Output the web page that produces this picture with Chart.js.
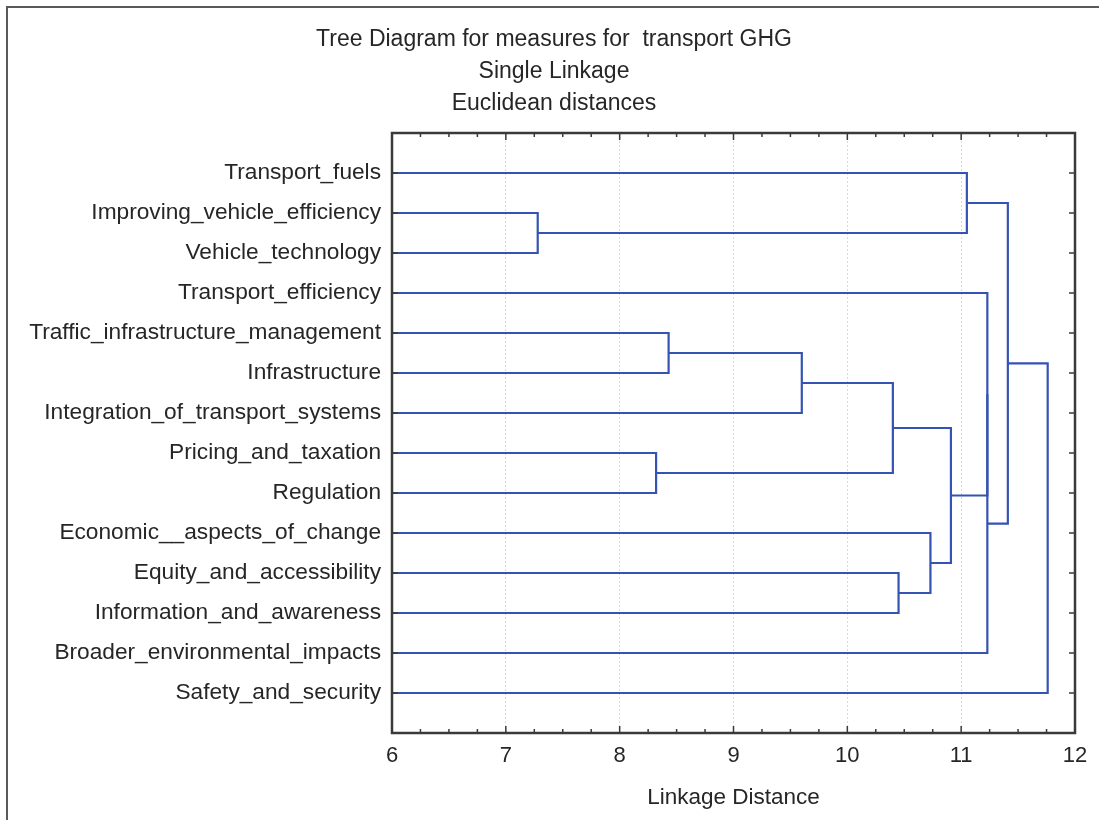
<!DOCTYPE html>
<html>
<head>
<meta charset="utf-8">
<title>Tree Diagram for measures for transport GHG</title>
<script src="https://cdn.jsdelivr.net/npm/chart.js@4.4.1/dist/chart.umd.min.js"></script>
<style>
  html, body { margin: 0; padding: 0; background: #fff; }
  #wrap { width: 1099px; height: 820px; }
</style>
</head>
<body>
<div id="wrap"><canvas id="c" width="1099" height="820"></canvas></div>
<script>
// leaves, top to bottom
const leaves = [
  'Transport_fuels',
  'Improving_vehicle_efficiency',
  'Vehicle_technology',
  'Transport_efficiency',
  'Traffic_infrastructure_management',
  'Infrastructure',
  'Integration_of_transport_systems',
  'Pricing_and_taxation',
  'Regulation',
  'Economic__aspects_of_change',
  'Equity_and_accessibility',
  'Information_and_awareness',
  'Broader_environmental_impacts',
  'Safety_and_security'
];

// merges: node ids 0..13 are leaves, merge k becomes node 14+k
const mergePairs = [
  [1, 2],    // 14
  [4, 5],    // 15
  [7, 8],    // 16
  [15, 6],   // 17
  [17, 16],  // 18
  [10, 11],  // 19
  [9, 19],   // 20
  [18, 20],  // 21
  [0, 14],   // 22
  [3, 21],   // 23
  [23, 12],  // 24
  [22, 24],  // 25
  [25, 13]   // 26
];
const mergeHeights = [7.28, 8.43, 8.32, 9.60, 10.40, 10.45, 10.73, 10.91, 11.05, 11.23, 11.23, 11.41, 11.76];

const xTicks = [6, 7, 8, 9, 10, 11, 12];

const LINE = '#3553b3';
const TEXT = '#262626';
const FONT = 'Liberation Sans, Arial, sans-serif';

// position (height, row) of every node
const nodeH = leaves.map(() => xTicks[0]);
const nodeY = leaves.map((_, i) => i);
mergePairs.forEach(function (p, k) {
  nodeH.push(mergeHeights[k]);
  nodeY.push((nodeY[p[0]] + nodeY[p[1]]) / 2);
});

// one bracket per merge
const datasets = mergePairs.map(function (p, k) {
  const a = p[0], b = p[1], h = mergeHeights[k];
  return {
    data: [
      { x: nodeH[a], y: nodeY[a] },
      { x: h, y: nodeY[a] },
      { x: h, y: nodeY[b] },
      { x: nodeH[b], y: nodeY[b] }
    ],
    showLine: true,
    borderColor: LINE,
    borderWidth: 2.2,
    pointRadius: 0,
    tension: 0
  };
});

// plot box, inward ticks and outer frame
const framePlugin = {
  id: 'frame',
  afterDraw(chart) {
    const ctx = chart.ctx, a = chart.chartArea;
    const x = chart.scales.x, y = chart.scales.y;
    ctx.save();
    ctx.strokeStyle = '#5a5a5a';
    ctx.lineWidth = 2;
    ctx.beginPath();
    ctx.moveTo(7, chart.height);
    ctx.lineTo(7, 7);
    ctx.lineTo(chart.width, 7);
    ctx.stroke();

    ctx.strokeStyle = '#3a3a3a';
    ctx.lineWidth = 2.5;
    ctx.strokeRect(a.left, a.top, a.right - a.left, a.bottom - a.top);

    ctx.lineWidth = 1.5;
    ctx.beginPath();
    leaves.forEach(function (_, i) {
      const py = y.getPixelForValue(i);
      ctx.moveTo(a.left, py); ctx.lineTo(a.left + 6, py);
      ctx.moveTo(a.right, py); ctx.lineTo(a.right - 6, py);
    });
    for (let v = x.min; v <= x.max + 1e-9; v += 0.25) {
      const px = x.getPixelForValue(v);
      const len = Math.abs(v - Math.round(v)) < 1e-6 ? 7 : 4;
      ctx.moveTo(px, a.bottom); ctx.lineTo(px, a.bottom - len);
      ctx.moveTo(px, a.top); ctx.lineTo(px, a.top + len);
    }
    ctx.stroke();
    ctx.restore();
  }
};

new Chart(document.getElementById('c'), {
  type: 'scatter',
  data: { datasets: datasets },
  plugins: [framePlugin],
  options: {
    responsive: false,
    animation: false,
    layout: { padding: { left: 9, right: 0, top: 0, bottom: 0 } },
    plugins: {
      legend: { display: false },
      tooltip: { enabled: false },
      title: {
        display: true,
        text: ['Tree Diagram for measures for  transport GHG', 'Single Linkage', 'Euclidean distances'],
        color: TEXT,
        font: { family: FONT, size: 23, weight: 'normal', lineHeight: 32 / 23 },
        padding: { top: 24, bottom: 13 }
      }
    },
    scales: {
      x: {
        type: 'linear',
        position: 'bottom',
        min: xTicks[0],
        max: xTicks[xTicks.length - 1],
        afterBuildTicks(s) { s.ticks = xTicks.map(v => ({ value: v })); },
        afterFit(s) { s.height = 87; },
        ticks: { color: TEXT, font: { family: FONT, size: 22 }, padding: 10, maxRotation: 0 },
        grid: { color: 'rgba(120,150,225,0.35)', lineWidth: 1, drawTicks: false },
        border: { display: false, dash: [2, 2] },
        title: {
          display: true,
          text: 'Linkage Distance',
          color: TEXT,
          font: { family: FONT, size: 22.5 },
          padding: { top: 0, bottom: 9 }
        }
      },
      y: {
        type: 'linear',
        reverse: true,
        min: -1,
        max: 14,
        afterBuildTicks(s) { s.ticks = leaves.map((_, i) => ({ value: i })); },
        afterFit(s) { s.width = 383; },
        ticks: {
          autoSkip: false,
          color: TEXT,
          font: { family: FONT, size: 22.7 },
          padding: 11,
          callback: v => leaves[v]
        },
        grid: { display: false, drawTicks: false },
        border: { display: false }
      },
      // empty right-hand margin so the title stays centred on the page
      yRight: {
        type: 'linear',
        position: 'right',
        min: 0,
        max: 1,
        afterFit(s) { s.width = 24; },
        ticks: { display: false },
        grid: { display: false, drawTicks: false },
        border: { display: false }
      }
    }
  }
});
</script>
</body>
</html>
